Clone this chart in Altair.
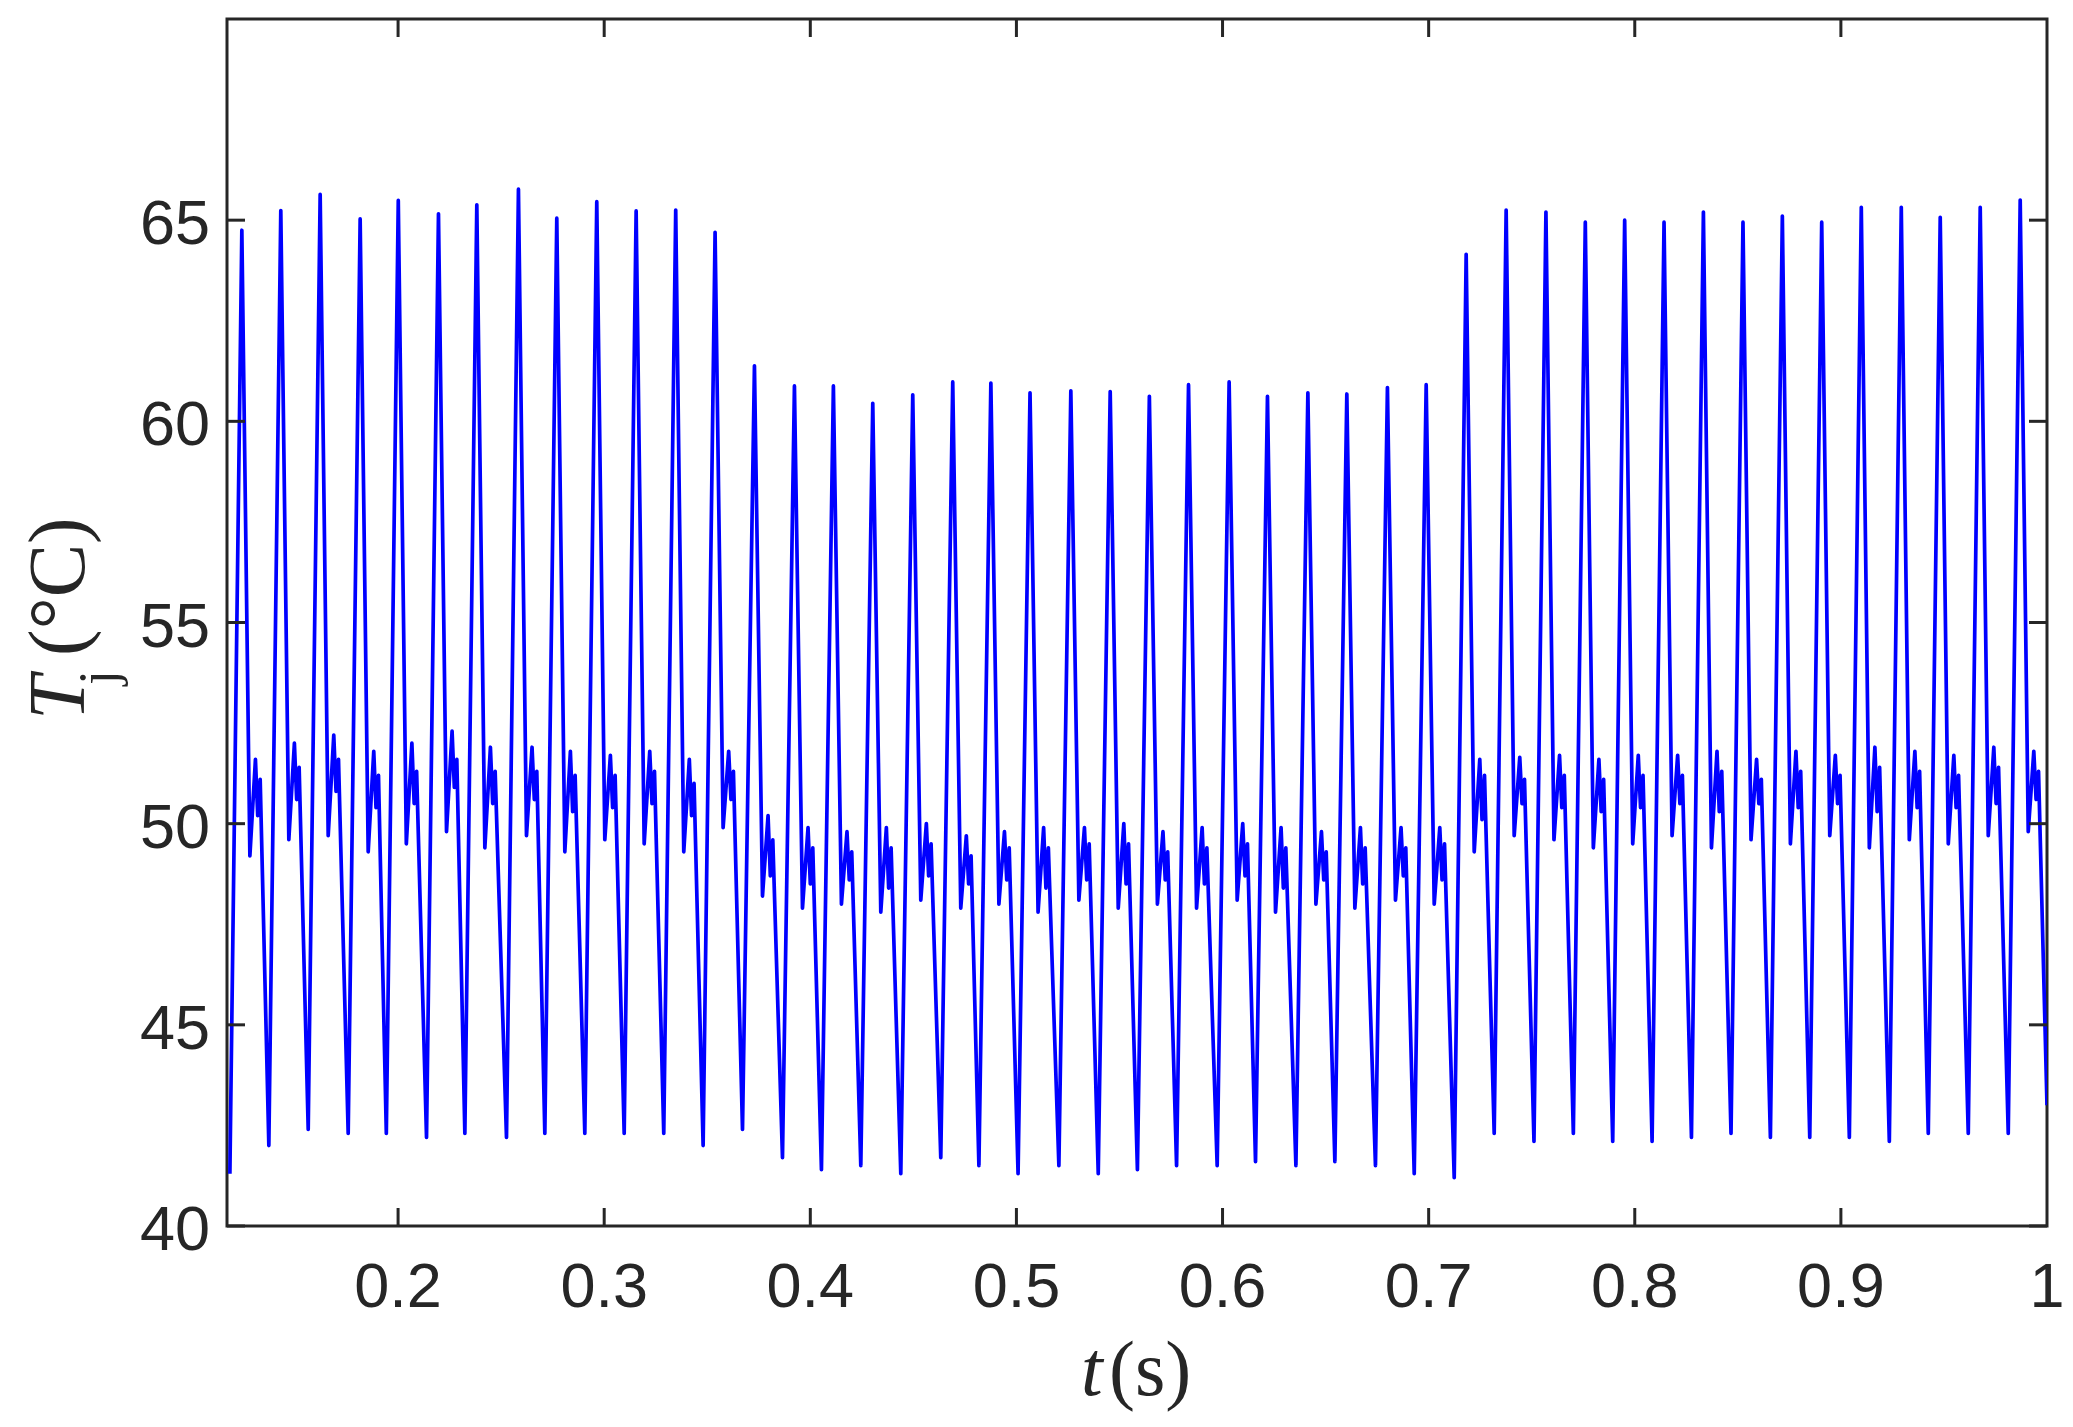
import altair as alt
import pandas as pd

# ---- data ----
# time of each temperature peak (s)
t_peak = [0.1242, 0.1431, 0.1622, 0.1816, 0.2001, 0.2196, 0.2382, 0.2584, 0.2770, 0.2964,
          0.3155, 0.3347, 0.3538, 0.3729, 0.3923, 0.4112, 0.4303, 0.4497, 0.4691, 0.4876,
          0.5066, 0.5264, 0.5455, 0.5645, 0.5835, 0.6032, 0.6218, 0.6414, 0.6603, 0.6800,
          0.6988, 0.7182, 0.7376, 0.7569, 0.7760, 0.7951, 0.8142, 0.8333, 0.8525, 0.8716,
          0.8907, 0.9099, 0.9293, 0.9482, 0.9676, 0.9870]
# peak junction temperature of each cycle
v_peak = [64.75, 65.24, 65.64, 65.03, 65.49, 65.16, 65.38, 65.77, 65.05, 65.46, 65.23, 65.25, 64.70,
          61.38, 60.88, 60.88, 60.45, 60.66, 60.98, 60.95, 60.71, 60.76, 60.74, 60.62, 60.91, 60.98,
          60.62, 60.71, 60.68, 60.84, 60.91,
          64.15, 65.25, 65.20, 64.95, 65.00, 64.95, 65.20, 64.95, 65.10, 64.95, 65.32, 65.32, 65.07,
          65.32, 65.50]
# minimum just before each peak
v_trough = [41.3, 42.0, 42.4, 42.3, 42.3, 42.2, 42.3, 42.2, 42.3, 42.3, 42.3, 42.3, 42.0,
            42.4, 41.7, 41.4, 41.5, 41.3, 41.7, 41.5, 41.3, 41.5, 41.3, 41.4, 41.5, 41.5, 41.6,
            41.5, 41.6, 41.5, 41.3, 41.2,
            42.3, 42.1, 42.3, 42.1, 42.1, 42.2, 42.3, 42.2, 42.2, 42.2, 42.1, 42.3, 42.3, 42.3]
# ripple after each peak: first dip, first bump, small dip, second bump
v_dip = [49.2, 49.6, 49.7, 49.3, 49.5, 49.8, 49.4, 49.7, 49.3, 49.6, 49.5, 49.3, 49.9,
         48.2, 47.9, 48.0, 47.8, 48.1, 47.9, 48.0, 47.8, 48.1, 47.9, 48.0, 47.9, 48.1, 47.8,
         48.0, 47.9, 48.1, 48.0,
         49.3, 49.7, 49.6, 49.4, 49.5, 49.7, 49.4, 49.6, 49.5, 49.7, 49.4, 49.6, 49.5, 49.7, 49.8]
v_bump = [51.6, 52.0, 52.2, 51.8, 52.0, 52.3, 51.9, 51.9, 51.8, 51.7, 51.8, 51.6, 51.8,
          50.2, 49.9, 49.8, 49.9, 50.0, 49.7, 49.8, 49.9, 49.9, 50.0, 49.8, 49.9, 50.0, 49.9,
          49.8, 49.9, 49.9, 49.9,
          51.6, 51.65, 51.7, 51.6, 51.7, 51.7, 51.8, 51.6, 51.8, 51.7, 51.9, 51.8, 51.7, 51.9, 51.8]
v_mid = [50.2, 50.6, 50.8, 50.4, 50.5, 50.9, 50.5, 50.6, 50.3, 50.4, 50.5, 50.2, 50.6,
         48.7, 48.5, 48.6, 48.4, 48.7, 48.5, 48.6, 48.4, 48.6, 48.5, 48.6, 48.5, 48.7, 48.4,
         48.6, 48.5, 48.7, 48.6,
         50.1, 50.5, 50.4, 50.3, 50.4, 50.5, 50.3, 50.5, 50.4, 50.5, 50.3, 50.4, 50.4, 50.5, 50.6]
v_bump2 = [51.1, 51.4, 51.6, 51.2, 51.3, 51.6, 51.3, 51.3, 51.2, 51.2, 51.3, 51.0, 51.3,
           49.6, 49.4, 49.3, 49.4, 49.5, 49.2, 49.4, 49.4, 49.5, 49.5, 49.3, 49.4, 49.5, 49.4,
           49.3, 49.4, 49.4, 49.5,
           51.2, 51.1, 51.2, 51.1, 51.2, 51.2, 51.3, 51.1, 51.3, 51.2, 51.4, 51.3, 51.2, 51.4, 51.3]
# timing of the key points inside one cycle, relative to the peak (s)
dt_trough, dt_dip, dt_bump, dt_mid, dt_bump2 = -0.0058, 0.0039, 0.0066, 0.0077, 0.0089
t_first, t_last, v_last = 0.1172, 1.0, 43.0

x_ticks = [0.2, 0.3, 0.4, 0.5, 0.6, 0.7, 0.8, 0.9, 1.0]
x_tick_labels = ["0.2", "0.3", "0.4", "0.5", "0.6", "0.7", "0.8", "0.9", "1"]
y_ticks = [40, 45, 50, 55, 60, 65]
y_tick_labels = ["40", "45", "50", "55", "60", "65"]

rows = []
for i in range(len(t_peak)):
    tp = t_peak[i]
    rows.append((max(t_first, tp + dt_trough), v_trough[i]))
    rows.append((tp, v_peak[i]))
    rows.append((tp + dt_dip, v_dip[i]))
    rows.append((tp + dt_bump, v_bump[i]))
    rows.append((tp + dt_mid, v_mid[i]))
    rows.append((tp + dt_bump2, v_bump2[i]))
rows.append((t_last, v_last))
df = pd.DataFrame(rows, columns=["t", "T"])
df["k"] = range(len(df))

W, H = 1820, 1207
TL = 18
AX = "#262626"
SANS = "Liberation Sans"
SERIF = "Liberation Serif"
xs = alt.Scale(domain=[0.117, 1.0], nice=False, zero=False)
ys = alt.Scale(domain=[40, 70], nice=False, zero=False)

line = alt.Chart(df).mark_line(color="#0000ff", strokeWidth=3.7, clip=True,
                               strokeJoin="round").encode(
    x=alt.X("t:Q", scale=xs, axis=None),
    y=alt.Y("T:Q", scale=ys, axis=None),
    order="k:Q",
)

ydf = pd.DataFrame({"T": y_ticks, "lab": y_tick_labels})
xdf = pd.DataFrame({"t": x_ticks, "lab": x_tick_labels})
xdf_in = xdf[xdf["t"] < 1.0]

yl = alt.Chart(ydf).mark_rule(color=AX, strokeWidth=3).encode(
    y=alt.Y("T:Q", scale=ys, axis=None), x=alt.value(0), x2=alt.value(TL))
yr = alt.Chart(ydf).mark_rule(color=AX, strokeWidth=3).encode(
    y=alt.Y("T:Q", scale=ys, axis=None), x=alt.value(W), x2=alt.value(W - TL))
xb = alt.Chart(xdf_in).mark_rule(color=AX, strokeWidth=3).encode(
    x=alt.X("t:Q", scale=xs, axis=None), y=alt.value(H), y2=alt.value(H - TL))
xt = alt.Chart(xdf_in).mark_rule(color=AX, strokeWidth=3).encode(
    x=alt.X("t:Q", scale=xs, axis=None), y=alt.value(0), y2=alt.value(TL))

ylab = alt.Chart(ydf).mark_text(font=SANS, fontSize=63, color=AX, align="right",
                                baseline="alphabetic", dy=24).encode(
    y=alt.Y("T:Q", scale=ys, axis=None), x=alt.value(-17), text="lab:N")
xlab = alt.Chart(xdf).mark_text(font=SANS, fontSize=63, color=AX, align="center",
                                baseline="alphabetic").encode(
    x=alt.X("t:Q", scale=xs, axis=None), y=alt.value(1288), text="lab:N")

one = pd.DataFrame({"a": [0]})
t_title = alt.Chart(one).mark_text(text="t", font=SERIF, fontStyle="italic", fontSize=78,
                                   color=AX, align="left", baseline="alphabetic").encode(
    x=alt.value(854), y=alt.value(1376))
s_title = alt.Chart(one).mark_text(text="(s)", font=SERIF, fontSize=78,
                                   color=AX, align="left", baseline="alphabetic").encode(
    x=alt.value(882), y=alt.value(1376))
T_title = alt.Chart(one).mark_text(text="T", font=SERIF, fontStyle="italic", fontSize=80,
                                   color=AX, align="left", baseline="alphabetic", angle=270).encode(
    x=alt.value(-143.5), y=alt.value(701))
j_title = alt.Chart(one).mark_text(text="j", font=SERIF, fontSize=54,
                                   color=AX, align="left", baseline="alphabetic", angle=270).encode(
    x=alt.value(-111), y=alt.value(666))
C_title = alt.Chart(one).mark_text(text="(°C)", font=SERIF, fontSize=80,
                                   color=AX, align="left", baseline="alphabetic", angle=270).encode(
    x=alt.value(-143.5), y=alt.value(637))

chart = alt.layer(line, yl, yr, xb, xt, ylab, xlab,
                  t_title, s_title, T_title, j_title, C_title).properties(
    width=W, height=H,
    autosize=alt.AutoSizeParams(type="none"),
    padding={"left": 219, "top": 11, "right": 18, "bottom": 190},
    background="white",
).configure_view(stroke=AX, strokeWidth=3)

chart.save("out.html", embed_options={"renderer": "svg", "actions": False})
